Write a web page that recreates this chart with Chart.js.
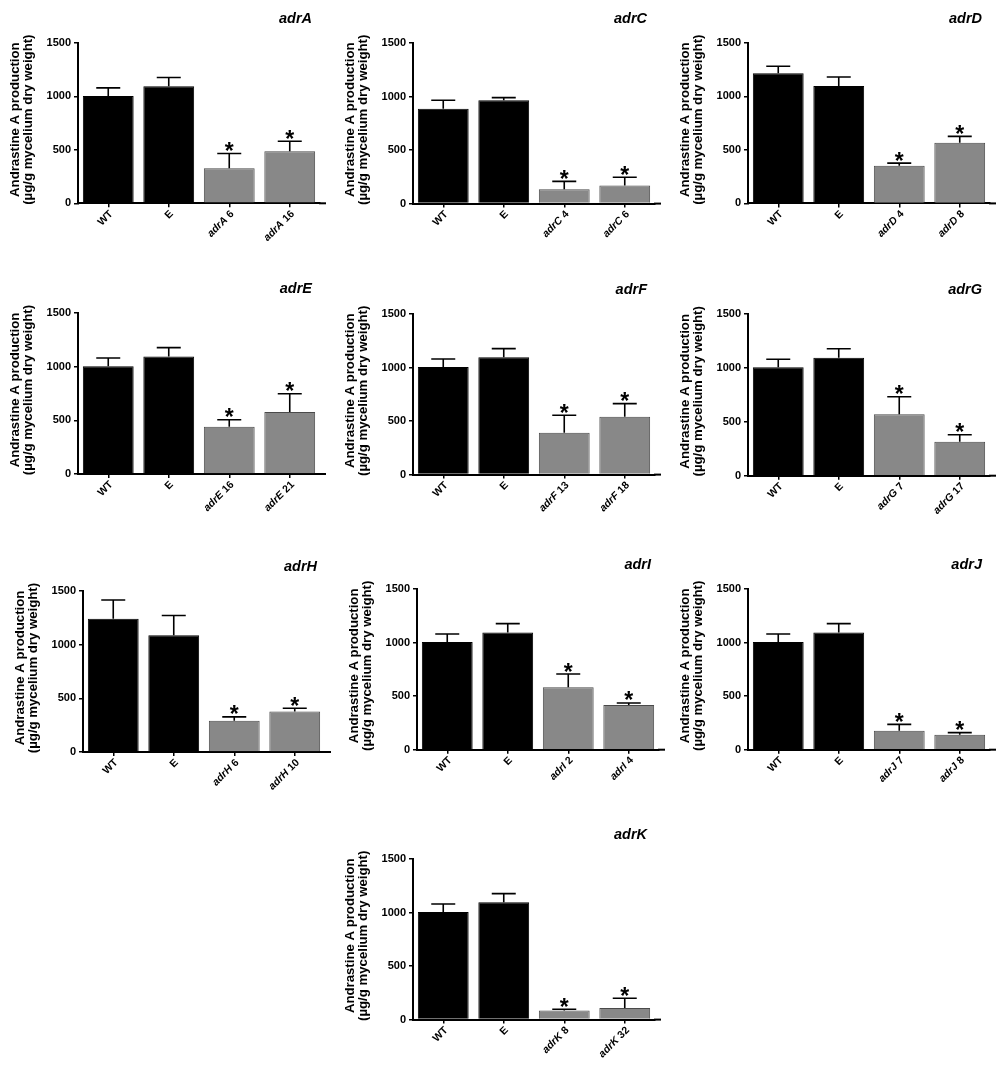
<!DOCTYPE html>
<html>
<head>
<meta charset="utf-8">
<script src="https://cdn.jsdelivr.net/npm/chart.js@4.4.1/dist/chart.umd.min.js"></script>
<style>
  html, body { margin: 0; padding: 0; background: #fff; overflow: hidden; }
  #wrap { position: relative; width: 1000px; height: 1076px; }
  .panel { position: absolute; }
</style>
</head>
<body>
<div id="wrap"></div>
<script>
// gene knocked out in each panel, and the two mutant strain numbers
const genes = ['adrA', 'adrC', 'adrD', 'adrE', 'adrF', 'adrG', 'adrH', 'adrI', 'adrJ', 'adrK'];
const mutantNumbers = [[6, 16], [4, 6], [4, 8], [16, 21], [13, 18], [7, 17], [6, 10], [2, 4], [7, 8], [8, 32]];
const controlLabels = ['WT', 'E'];

// andrastine A production, µg/g mycelium dry weight (WT, E, mutant 1, mutant 2)
const means = [
  [1005, 1095, 329, 487],
  [887, 965, 134, 168],
  [1216, 1098, 352, 568],
  [1005, 1095, 441, 578],
  [1005, 1095, 392, 541],
  [1005, 1095, 569, 315],
  [1241, 1088, 290, 377],
  [1005, 1095, 582, 417],
  [1005, 1095, 177, 140],
  [1005, 1095, 84, 109]
];
// upper error bars
const errors = [
  [75, 82, 137, 93],
  [78, 25, 74, 78],
  [66, 84, 25, 59],
  [76, 82, 65, 170],
  [75, 82, 162, 122],
  [75, 82, 164, 65],
  [175, 184, 37, 31],
  [75, 82, 124, 19],
  [75, 82, 59, 19],
  [75, 82, 12, 90]
];
// which columns carry a significance star
const starred = [false, false, true, true];
const yTicks = [0, 500, 1000, 1500];

// where each panel sits on the page: y-axis x, pixel of 1500, pixel of 0
const axisX = [77.7, 412.7, 747.7, 77.7, 412.7, 747.7, 82.7, 416.7, 747.7, 412.7];
const axisTop = [42.7, 42.7, 43.3, 313.3, 313.7, 314.3, 591, 589.3, 589.3, 858.7];
const axisZero = [203, 203.3, 203.7, 474.3, 474.3, 476, 752, 750, 750, 1019.3];

const FONT = '"Liberation Sans", Arial, Helvetica, sans-serif';
const W = 330, H = 265, L = 80, T = 45, PW = 242, YW = 40, XH = 10;

// error bars, stars, rotated labels, titles
const decor = {
  id: 'decor',
  afterDraw(chart) {
    const ctx = chart.ctx;
    const p = chart.options.panelIndex;
    const xs = chart.scales.x, ys = chart.scales.y;
    const area = chart.chartArea;
    const y0 = ys.getPixelForValue(0);
    const meta = chart.getDatasetMeta(0);

    ctx.save();
    // x axis line runs a little past the last column
    ctx.strokeStyle = '#000';
    ctx.lineWidth = 2;
    ctx.beginPath();
    ctx.moveTo(area.right - 1, y0);
    ctx.lineTo(area.right + 6, y0);
    ctx.stroke();

    // upper error bars
    ctx.lineWidth = 1.6;
    meta.data.forEach((bar, i) => {
      const yv = ys.getPixelForValue(means[p][i]);
      const ye = ys.getPixelForValue(means[p][i] + errors[p][i]);
      ctx.beginPath();
      ctx.moveTo(bar.x, yv);
      ctx.lineTo(bar.x, ye);
      ctx.moveTo(bar.x - 12, ye);
      ctx.lineTo(bar.x + 12, ye);
      ctx.stroke();
      if (starred[i]) {
        ctx.font = 'bold 23px ' + FONT;
        ctx.fillStyle = '#000';
        ctx.textAlign = 'center';
        ctx.textBaseline = 'alphabetic';
        const m = ctx.measureText('*');
        const mid = (m.actualBoundingBoxAscent - m.actualBoundingBoxDescent) / 2;
        ctx.fillText('*', bar.x, ye - 7 + mid);
      }
    });

    // rotated category labels, gene name in italics
    ctx.fillStyle = '#000';
    chart.data.labels.forEach((lab, i) => {
      const cx = xs.getPixelForValue(i);
      const parts = lab.startsWith('adr')
        ? [{ t: lab.split(' ')[0], it: true }, { t: ' ' + lab.split(' ')[1], it: false }]
        : [{ t: lab, it: false }];
      ctx.save();
      ctx.translate(cx + 3, y0 + 9);
      ctx.rotate(-Math.PI / 4);
      ctx.textBaseline = 'middle';
      ctx.textAlign = 'left';
      let total = 0;
      parts.forEach(pt => {
        ctx.font = (pt.it ? 'italic ' : '') + 'bold 10.5px ' + FONT;
        pt.w = ctx.measureText(pt.t).width;
        total += pt.w;
      });
      let x = -total;
      parts.forEach(pt => {
        ctx.font = (pt.it ? 'italic ' : '') + 'bold 10.5px ' + FONT;
        ctx.fillText(pt.t, x, 0);
        x += pt.w;
      });
      ctx.restore();
    });

    // panel title
    ctx.font = 'italic bold 14.5px ' + FONT;
    ctx.textAlign = 'right';
    ctx.textBaseline = 'middle';
    ctx.fillText(genes[p], area.left + 234, area.top - 24);

    // y axis title, two lines
    const midY = (area.top + area.bottom) / 2 - 3.5;
    ctx.font = 'bold 13.2px ' + FONT;
    ctx.textAlign = 'center';
    ctx.save();
    ctx.translate(area.left - 62.7, midY);
    ctx.rotate(-Math.PI / 2);
    ctx.fillText('Andrastine A production', 0, 0);
    ctx.restore();
    ctx.save();
    ctx.translate(area.left - 49.4, midY);
    ctx.rotate(-Math.PI / 2);
    ctx.fillText('(\u00b5g/g mycelium dry weight)', 0, 0);
    ctx.restore();

    ctx.restore();
  }
};

const wrap = document.getElementById('wrap');
genes.forEach((gene, p) => {
  const plotH = axisZero[p] - axisTop[p];
  const div = document.createElement('div');
  div.className = 'panel';
  div.style.left = (axisX[p] - L) + 'px';
  div.style.top = (axisTop[p] - T) + 'px';
  const canvas = document.createElement('canvas');
  canvas.width = W;
  canvas.height = H;
  div.appendChild(canvas);
  wrap.appendChild(div);

  const labels = controlLabels.concat(mutantNumbers[p].map(n => gene + ' ' + n));
  const fill = labels.map((l, i) => i < 2 ? '#000000' : '#888888');
  const edge = labels.map((l, i) => i < 2 ? '#000000' : '#4a4a4a');

  new Chart(canvas, {
    type: 'bar',
    data: {
      labels: labels,
      datasets: [{
        data: means[p],
        backgroundColor: fill,
        borderColor: edge,
        borderWidth: 1,
        barPercentage: 0.84,
        categoryPercentage: 1
      }]
    },
    options: {
      panelIndex: p,
      responsive: false,
      animation: false,
      layout: {
        padding: { left: L - YW, top: T, right: W - L - PW, bottom: H - T - plotH - XH }
      },
      plugins: { legend: { display: false }, tooltip: { enabled: false }, title: { display: false } },
      scales: {
        x: {
          grid: { display: true, offset: false, drawOnChartArea: false, drawTicks: true, tickLength: 4, color: '#000', lineWidth: 1.5 },
          border: { display: true, color: '#000', width: 2 },
          ticks: { display: false },
          afterFit(s) { s.height = XH; }
        },
        y: {
          min: 0,
          max: 1500,
          afterBuildTicks(s) { s.ticks = yTicks.map(v => ({ value: v })); },
          ticks: {
            color: '#000',
            padding: 3,
            font: { family: FONT, size: 11, weight: 'bold' },
            callback: v => String(v)
          },
          grid: { drawOnChartArea: false, drawTicks: true, tickLength: 4, color: '#000', lineWidth: 1.5 },
          border: { display: true, color: '#000', width: 2 },
          afterFit(s) { s.width = YW; }
        }
      }
    },
    plugins: [decor]
  });
});
</script>
</body>
</html>
